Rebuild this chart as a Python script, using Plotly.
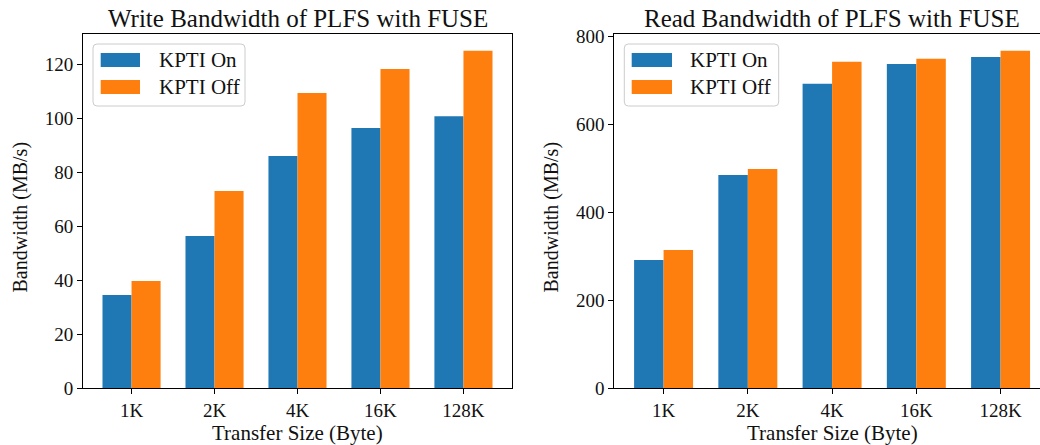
import plotly.graph_objects as go

categories = ["1K", "2K", "4K", "16K", "128K"]
write_on = [34.5, 56.4, 86.0, 96.4, 100.8]
write_off = [39.7, 73.0, 109.4, 118.3, 125.0]
read_on = [291.7, 485.0, 692.8, 738.0, 754.0]
read_off = [314.5, 499.0, 743.0, 750.0, 768.0]
series_names = ["KPTI On", "KPTI Off"]
colors = ["#1f77b4", "#ff7f0e"]
titles = ["Write Bandwidth of PLFS with FUSE", "Read Bandwidth of PLFS with FUSE"]
x_title = "Transfer Size (Byte)"
y_title = "Bandwidth (MB/s)"

W, H = 1040, 445
FONT = "Liberation Serif"

fig = go.Figure()
fig.add_trace(go.Bar(x=categories, y=write_on, name=series_names[0], marker_color=colors[0], xaxis="x", yaxis="y", showlegend=False, marker_line_width=0))
fig.add_trace(go.Bar(x=categories, y=write_off, name=series_names[1], marker_color=colors[1], xaxis="x", yaxis="y", showlegend=False, marker_line_width=0))
fig.add_trace(go.Bar(x=categories, y=read_on, name=series_names[0], marker_color=colors[0], xaxis="x2", yaxis="y2", showlegend=False, marker_line_width=0))
fig.add_trace(go.Bar(x=categories, y=read_off, name=series_names[1], marker_color=colors[1], xaxis="x2", yaxis="y2", showlegend=False, marker_line_width=0))

def px(x):
    return x / W

def py(y):
    return 1 - y / H

# axes pixel boxes
L1, R1 = 83, 512
L2 = 614.3
TOP, BOT = 34, 388

axis_common = dict(showline=True, linecolor="black", linewidth=1.1, ticks="outside", ticklen=5, tickwidth=1.1,
                   tickcolor="black", showgrid=False, zeroline=False, automargin=False,
                   tickfont=dict(family=FONT, size=19, color="#111"))

fig.update_layout(
    width=W, height=H, margin=dict(l=0, r=0, t=0, b=0, autoexpand=False),
    paper_bgcolor="white", plot_bgcolor="white",
    barmode="group", bargap=0.3, bargroupgap=0,
    xaxis=dict(domain=[px(L1), px(R1)], anchor="y", range=[-0.585, 4.585], mirror=True, **axis_common),
    yaxis=dict(domain=[py(BOT), py(TOP)], anchor="x", range=[0, 131.25], mirror=True,
               tickvals=[0, 20, 40, 60, 80, 100, 120], **axis_common),
    xaxis2=dict(domain=[px(L2), 1.0], anchor="y2", range=[-0.585, 4.468], mirror=True, **axis_common),
    yaxis2=dict(domain=[py(BOT), py(TOP)], anchor="x2", range=[0, 806.4], mirror=False,
                tickvals=[0, 200, 400, 600, 800], **axis_common),
    showlegend=False,
)

annotations = []
shapes = []

def rounded_rect(x0, y0, x1, y1, r):
    return (f"M {px(x0 + r)},{py(y0)} L {px(x1 - r)},{py(y0)} "
            f"Q {px(x1)},{py(y0)} {px(x1)},{py(y0 + r)} L {px(x1)},{py(y1 - r)} "
            f"Q {px(x1)},{py(y1)} {px(x1 - r)},{py(y1)} L {px(x0 + r)},{py(y1)} "
            f"Q {px(x0)},{py(y1)} {px(x0)},{py(y1 - r)} L {px(x0)},{py(y0 + r)} "
            f"Q {px(x0)},{py(y0)} {px(x0 + r)},{py(y0)} Z")

panels = [(L1, R1, 93, 245, 100.7, 140, 156.7), (L2, 1049.9, 624.3, 778.7, 631.7, 672, 688.3)]
for i, (l, r, bx0, bx1, sx0, sx1, tx) in enumerate(panels):
    center = (l + r) / 2
    annotations.append(dict(text=titles[i], x=px(center), y=py(18), xref="paper", yref="paper",
                            showarrow=False, xanchor="center", yanchor="middle",
                            font=dict(family=FONT, size=25, color="#111")))
    annotations.append(dict(text=x_title, x=px(center), y=py(433), xref="paper", yref="paper",
                            showarrow=False, xanchor="center", yanchor="middle",
                            font=dict(family=FONT, size=21, color="#111")))
    ylab_x = 20 if i == 0 else 520 + 31
    annotations.append(dict(text=y_title, x=px(ylab_x), y=py(217.5), xref="paper", yref="paper",
                            showarrow=False, xanchor="center", yanchor="middle", textangle=-90,
                            font=dict(family=FONT, size=20, color="#111")))
    shapes.append(dict(type="path", path=rounded_rect(bx0, 44, bx1, 106, 4), xref="paper", yref="paper",
                       line=dict(color="#cccccc", width=1), fillcolor="rgba(255,255,255,0.8)"))
    for j, yc in enumerate([60, 87]):
        shapes.append(dict(type="rect", x0=px(sx0), x1=px(sx1), y0=py(yc - 7), y1=py(yc + 7),
                           xref="paper", yref="paper", line=dict(width=0), fillcolor=colors[j]))
        annotations.append(dict(text=series_names[j], x=px(tx), y=py(yc), xref="paper", yref="paper",
                                showarrow=False, xanchor="left", yanchor="middle",
                                font=dict(family=FONT, size=21, color="#111")))

fig.update_layout(annotations=annotations, shapes=shapes)
fig.write_html("out.html")
